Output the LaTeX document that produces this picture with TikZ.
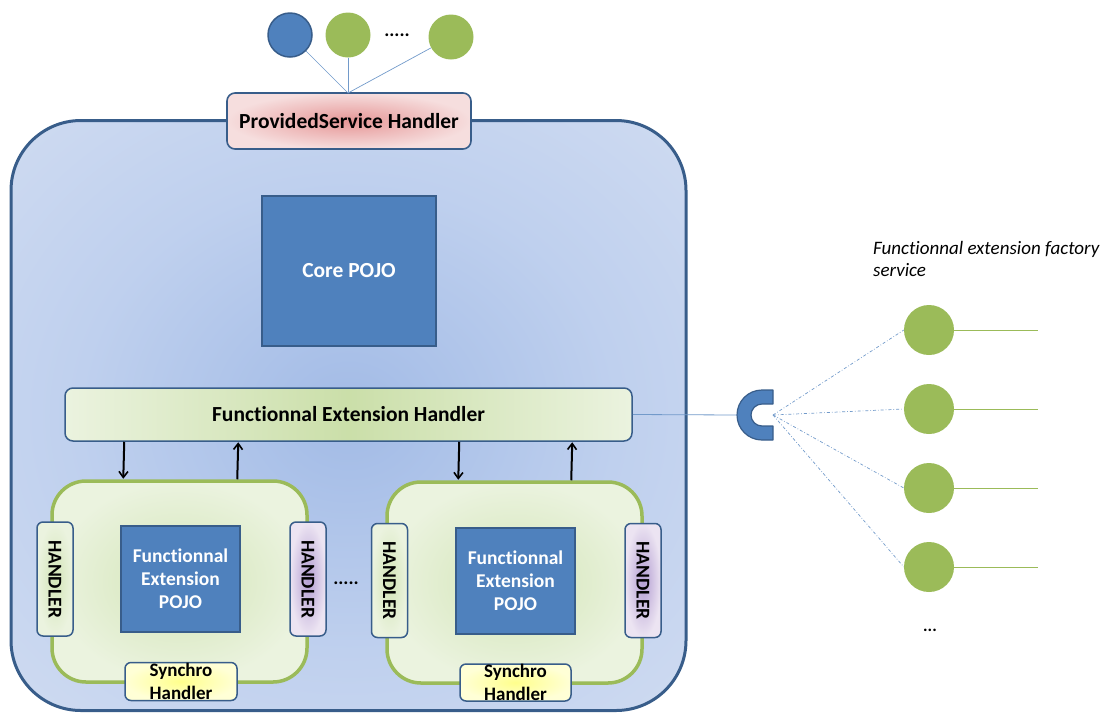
\documentclass[tikz,border=0pt]{standalone}
\usepackage{fontspec}
\setmainfont{Carlito}[Ligatures=NoCommon]
\usetikzlibrary{arrows.meta}
\definecolor{bluefill}{HTML}{4F81BD}
\definecolor{bluedark}{HTML}{385D8A}
\definecolor{greenc}{HTML}{9BBB59}
\definecolor{mainA}{HTML}{A2BAE5}
\definecolor{mainB}{HTML}{A9C0E8}
\definecolor{mainC}{HTML}{BFD0EE}
\definecolor{mainD}{HTML}{CFDBF1}
\definecolor{mainE}{HTML}{DAE3F3}
\definecolor{redin}{HTML}{E69696}
\definecolor{redout}{HTML}{F6DEDE}
\definecolor{extin}{HTML}{D3E5B7}
\definecolor{extout}{HTML}{EBF3DF}
\definecolor{purin}{HTML}{B39ED2}
\definecolor{purout}{HTML}{ECE4F2}
\definecolor{yelin}{HTML}{FFFF8C}
\definecolor{yelout}{HTML}{FFFFD6}
\pgfdeclareradialshading{mainshade}{\pgfpoint{0bp}{0bp}}{color(0bp)=(mainA); color(5bp)=(mainB); color(20bp)=(mainC); color(36bp)=(mainD); color(50bp)=(mainE); color(100bp)=(mainE)}
\begin{document}
\begin{tikzpicture}[x=1pt,y=-1pt,
  txt/.style={font=\bfseries\fontsize{21.5}{24}\selectfont},
  bluebox/.style={draw=bluedark,line width=1.3pt,fill=bluefill,text=white,align=center,inner sep=0pt},
  handlerbox/.style={draw=bluedark,line width=1.5pt,rounded corners=6pt,rotate=-90,minimum width=114pt,minimum height=36pt,inner sep=0pt,font=\bfseries\fontsize{19.5}{22}\selectfont},
  hgreen/.style={handlerbox,inner color=extin,outer color=extout},
  hpurple/.style={handlerbox,inner color=purin,outer color=purout},
  synchro/.style={draw=bluedark,line width=1.5pt,rounded corners=6pt,minimum width=112pt,minimum height=38pt,inner sep=0pt,inner color=yelin,outer color=yelout,align=center,font=\bfseries\fontsize{19}{23}\selectfont},
  extbox/.style={draw=greenc,line width=3.5pt,rounded corners=34pt,inner color=extin,outer color=extout,minimum width=255pt,minimum height=201pt,inner sep=0pt},
  gcirc/.style={circle,fill=greenc,minimum size=46pt,inner sep=0pt},
  dotsstyle/.style={font=\bfseries\fontsize{19}{22}\selectfont,inner sep=0pt},
  arr/.style={-{Straight Barb[length=6pt,width=9pt,line width=1.6pt]},line width=2pt,shorten >=0.5pt}
]
\useasboundingbox (0,0) rectangle (1105,713);
% main container
\node[draw=bluedark,line width=3pt,rounded corners=70pt,shading=mainshade,minimum width=675pt,minimum height=590pt,inner sep=0pt] (main) at (348.5,415.5) {};
% provided service
\node[draw=bluedark,line width=1.6pt,rounded corners=8pt,inner color=redin,outer color=redout,minimum width=244pt,minimum height=56pt,inner sep=0pt,txt] (ps) at (349,121) {ProvidedService Handler};
% top circles
\node[circle,draw=bluedark,line width=1.5pt,fill=bluefill,minimum size=44pt,inner sep=0pt] (c1) at (290,35) {};
\node[gcirc,minimum size=45pt] (c2) at (348,35) {};
\node[dotsstyle] (dotsA) at (397,35) {.....};
\node[gcirc,minimum size=45pt] (c3) at (451,37) {};
\coordinate (psTop) at (348,93);
\draw[bluefill!80,line width=0.7pt] (c1) -- (psTop);
\draw[bluefill!80,line width=0.7pt] (c2) -- (psTop);
\draw[bluefill!80,line width=0.7pt] (c3) -- (psTop);
% core pojo
\node[bluebox,minimum width=174pt,minimum height=150pt,txt] (core) at (349,271) {Core POJO};
% FEH
\node[draw=bluedark,line width=1.5pt,rounded corners=8pt,left color=extout,right color=extout,middle color=extin!85!greenc,minimum width=567pt,minimum height=53pt,inner sep=0pt,txt] (feh) at (348.5,414.5) {Functionnal Extension Handler};
% extension boxes
\node[extbox] (ext1) at (179.5,581.5) {};
\node[extbox] (ext2) at (514.5,582.5) {};
% arrows
\draw[arr] ([xshift=60pt]feh.south west) -- ([xshift=73pt]ext1.north west);
\draw[arr] ([xshift=187pt]ext1.north west) -- ([xshift=174pt]feh.south west);
\draw[arr] ([xshift=395pt]feh.south west) -- ([xshift=73pt]ext2.north west);
\draw[arr] ([xshift=186pt]ext2.north west) -- ([xshift=508pt]feh.south west);
% pojos
\node[bluebox,minimum width=119pt,minimum height=106pt,font=\bfseries\fontsize{19.5}{23}\selectfont] (pojo1) at (180.5,579) {Functionnal\\Extension\\POJO};
\node[bluebox,minimum width=119pt,minimum height=106pt,font=\bfseries\fontsize{19.5}{23}\selectfont] (pojo2) at (515.5,581) {Functionnal\\Extension\\POJO};
% handlers
\node[hgreen] (h1l) at (55,579) {HANDLER};
\node[hpurple] (h1r) at (308,579) {HANDLER};
\node[hgreen] (h2l) at (389.5,580.5) {HANDLER};
\node[hpurple] (h2r) at (643,580.5) {HANDLER};
\node[dotsstyle] (dotsB) at (346,583) {.....};
% synchro
\node[synchro] (s1) at (181,681.5) {Synchro\\Handler};
\node[synchro,minimum width=111pt,minimum height=37pt] (s2) at (515.5,682.5) {Synchro\\Handler};
% socket C shape
\coordinate (sockL) at (737,415);
\coordinate (sock) at (773,415);
\draw[draw=bluedark,fill=bluefill,line width=1.2pt,line join=round]
  (762,390) -- (773,390) -- (773,404) -- (762,404)
  arc[start angle=270,end angle=90,radius=11] -- (773,426) -- (773,440) -- (762,440)
  arc[start angle=90,end angle=270,radius=25] -- cycle;
\draw[bluefill!80,line width=0.8pt] (feh.east) -- (sockL);
% factory circles
\node[gcirc,minimum size=50pt] (f1) at (929,330) {};
\node[gcirc,minimum size=50pt] (f2) at (929,409) {};
\node[gcirc,minimum size=50pt] (f3) at (929,488) {};
\node[gcirc,minimum size=50pt] (f4) at (929,567) {};
\foreach \n in {f1,f2,f3,f4}{
  \draw[bluefill!80,line width=0.7pt,dash dot] (sock) -- (\n.west);
  \draw[greenc,line width=0.9pt] (\n.east) -- ++(84,0);
}
\node[font=\itshape\fontsize{19}{22}\selectfont,align=left,anchor=north west,inner sep=0pt] (lbl) at (873,241) {Functionnal extension factory\\service};
\node[dotsstyle,font=\bfseries\fontsize{17}{20}\selectfont] (dotsC) at (930,630) {...};
\end{tikzpicture}
\end{document}
